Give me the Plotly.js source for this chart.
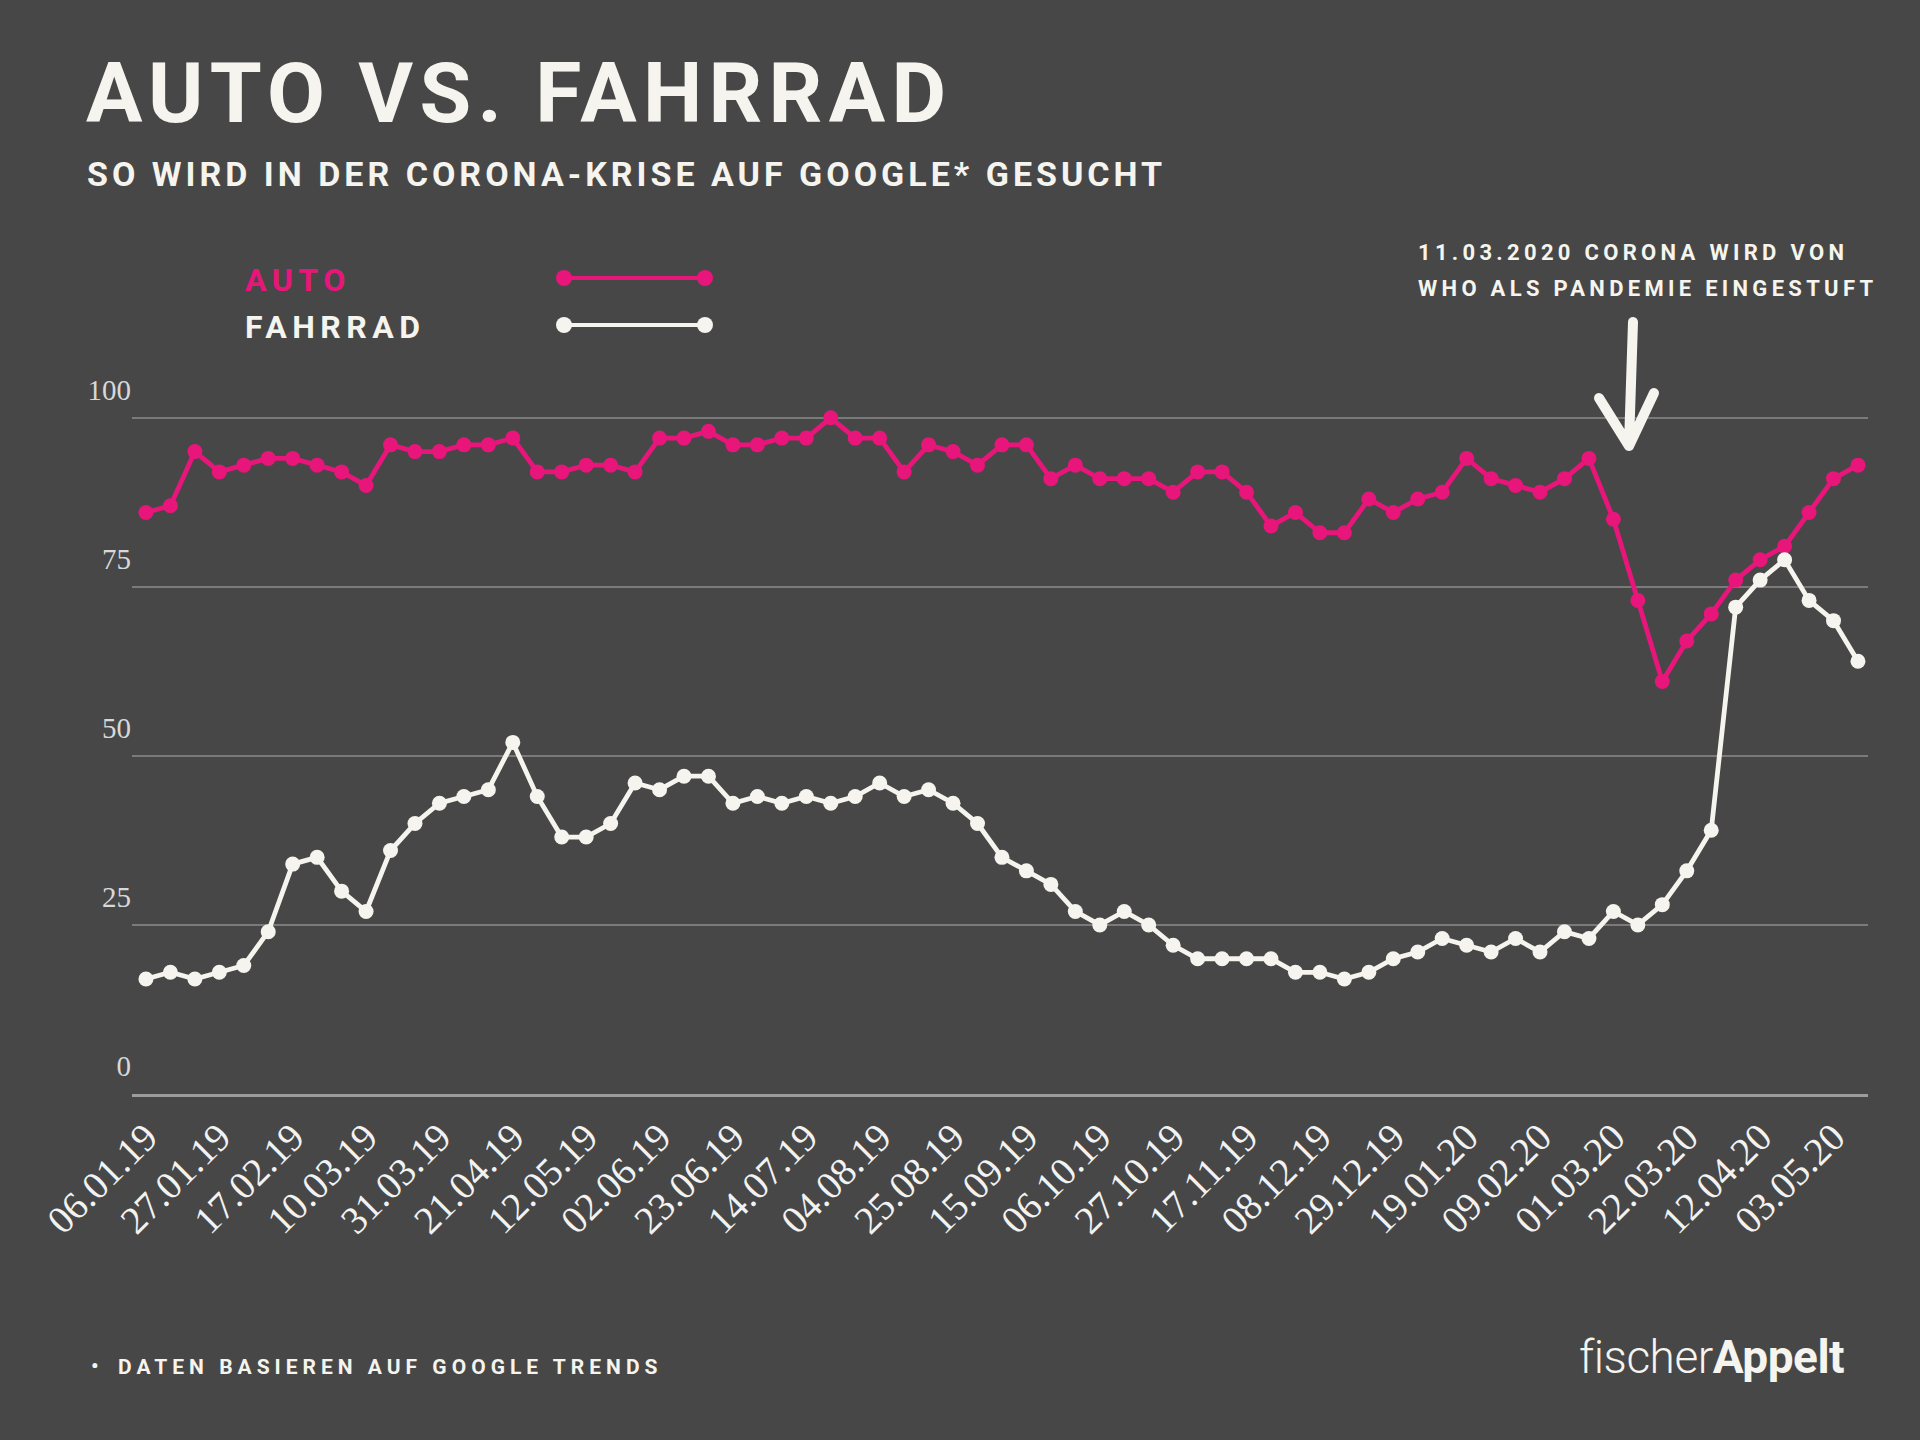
<!DOCTYPE html>
<html>
<head>
<meta charset="utf-8">
<script src="https://cdn.plot.ly/plotly-3.0.1.min.js"></script>
<style>
html,body{margin:0;padding:0;background:#474747;}
#chart{width:1920px;height:1440px;}
g.annotation[data-index="0"] text{letter-spacing:6.3px;}
g.annotation[data-index="1"] text{letter-spacing:4px;}
g.annotation[data-index="2"] text{letter-spacing:5.5px;}
g.annotation[data-index="3"] text{letter-spacing:5.5px;}
g.annotation[data-index="4"] text{letter-spacing:4.3px;}
g.annotation[data-index="5"] text{letter-spacing:4.3px;}
g.annotation[data-index="7"] text{letter-spacing:5px;}
g.annotation[data-index="8"] text{letter-spacing:-0.5px;}
.shapelayer path{stroke-linecap:round;stroke-linejoin:round;}
</style>
</head>
<body>
<div id="chart"></div>
<script>
// ---- data ----
const weeks = [
  '06.01.19','13.01.19','20.01.19','27.01.19','03.02.19','10.02.19','17.02.19','24.02.19',
  '03.03.19','10.03.19','17.03.19','24.03.19','31.03.19','07.04.19','14.04.19','21.04.19',
  '28.04.19','05.05.19','12.05.19','19.05.19','26.05.19','02.06.19','09.06.19','16.06.19',
  '23.06.19','30.06.19','07.07.19','14.07.19','21.07.19','28.07.19','04.08.19','11.08.19',
  '18.08.19','25.08.19','01.09.19','08.09.19','15.09.19','22.09.19','29.09.19','06.10.19',
  '13.10.19','20.10.19','27.10.19','03.11.19','10.11.19','17.11.19','24.11.19','01.12.19',
  '08.12.19','15.12.19','22.12.19','29.12.19','05.01.20','12.01.20','19.01.20','26.01.20',
  '02.02.20','09.02.20','16.02.20','23.02.20','01.03.20','08.03.20','15.03.20','22.03.20',
  '29.03.20','05.04.20','12.04.20','19.04.20','26.04.20','03.05.20','10.05.20'
];
const autoValues = [
  86,87,95,92,93,94,94,93,92,90,96,95,95,96,96,97,92,92,93,93,
  92,97,97,98,96,96,97,97,100,97,97,92,96,95,93,96,96,91,93,91,
  91,91,89,92,92,89,84,86,83,83,88,86,88,89,94,91,90,89,91,94,
  85,73,61,67,71,76,79,81,86,91,93
];
const fahrradValues = [
  17,18,17,18,19,24,34,35,30,27,36,40,43,44,45,52,44,38,38,40,
  46,45,47,47,43,44,43,44,43,44,46,44,45,43,40,35,33,31,27,25,
  27,25,22,20,20,20,20,18,18,17,18,20,21,23,22,21,23,21,24,23,
  27,25,28,33,39,72,76,79,73,70,64
];
const xTickLabels = [
  '06.01.19','27.01.19','17.02.19','10.03.19','31.03.19','21.04.19','12.05.19','02.06.19',
  '23.06.19','14.07.19','04.08.19','25.08.19','15.09.19','06.10.19','27.10.19','17.11.19',
  '08.12.19','29.12.19','19.01.20','09.02.20','01.03.20','22.03.20','12.04.20','03.05.20'
];
const yTickValues = [0,25,50,75,100];
const yTickLabels = ['0','25','50','75','100'];
const seriesNames = ['AUTO','FAHRRAD'];

// ---- style ----
const BG = '#474747';
const PINK = '#E8157B';
const WHITE = '#F5F4EE';
const L = 132, R = 1868, T = 384, B = 1094;
function px(x){ return (x - L) / (R - L); }
function py(y){ return (B - y) / (B - T); }

const traces = [
  {
    x: weeks, y: autoValues, name: seriesNames[0], type: 'scatter', mode: 'lines+markers',
    line: {color: PINK, width: 4.8}, marker: {color: PINK, size: 15}, cliponaxis: false
  },
  {
    x: weeks, y: fahrradValues, name: seriesNames[1], type: 'scatter', mode: 'lines+markers',
    line: {color: WHITE, width: 4.8}, marker: {color: WHITE, size: 15}, cliponaxis: false
  }
];

function ann(text, x, y, size, color, weight){
  return {
    text: text, xref: 'paper', yref: 'paper', x: px(x), y: py(y),
    xanchor: 'left', yanchor: 'middle', align: 'left', showarrow: false,
    font: {family: 'Roboto', size: size, color: color, weight: weight || 700}
  };
}

const annotations = [
  ann('AUTO VS. FAHRRAD', 84, 93, 84, WHITE),
  ann('SO WIRD IN DER CORONA-KRISE AUF GOOGLE* GESUCHT', 85, 174, 34, WHITE),
  ann(seriesNames[0], 243, 279.5, 32, PINK),
  ann(seriesNames[1], 243, 327, 32, WHITE),
  ann('11.03.2020 CORONA WIRD VON', 1416, 252.5, 22, WHITE),
  ann('WHO ALS PANDEMIE EINGESTUFT', 1416, 288, 22, WHITE),
  ann('•', 89, 1366, 21, WHITE),
  ann('DATEN BASIEREN AUF GOOGLE TRENDS', 116, 1367, 21, WHITE),
  ann('fischer<b>Appelt</b>', 1577, 1357, 46, WHITE, 300)
];

function dotShape(cx, cy, r, color){
  return {type: 'circle', xref: 'paper', yref: 'paper',
    x0: px(cx - r), x1: px(cx + r), y0: py(cy + r), y1: py(cy - r),
    fillcolor: color, line: {width: 0}};
}
const shapes = [
  {type: 'line', xref: 'paper', yref: 'paper', x0: px(564), x1: px(705), y0: py(278), y1: py(278), line: {color: PINK, width: 4}},
  dotShape(564, 278, 8, PINK), dotShape(705, 278, 8, PINK),
  {type: 'line', xref: 'paper', yref: 'paper', x0: px(564), x1: px(705), y0: py(325), y1: py(325), line: {color: WHITE, width: 4}},
  dotShape(564, 325, 8, WHITE), dotShape(705, 325, 8, WHITE),
  {type: 'path', xref: 'paper', yref: 'paper',
    path: 'M ' + px(1633) + ',' + py(322) + ' L ' + px(1629) + ',' + py(444) +
          ' M ' + px(1599) + ',' + py(398) + ' L ' + px(1629) + ',' + py(446) + ' L ' + px(1654) + ',' + py(393),
    line: {color: WHITE, width: 10}}
];

const layout = {
  width: 1920, height: 1440,
  paper_bgcolor: BG, plot_bgcolor: BG,
  margin: {l: L, r: 1920 - R, t: T, b: 1440 - B, pad: 0},
  showlegend: false,
  xaxis: {
    type: 'category', range: [-0.57, 70.41],
    tickmode: 'array', tickvals: xTickLabels, ticktext: xTickLabels,
    tickangle: -45, tickfont: {family: 'Liberation Serif', size: 39, color: '#F2F2F2'},
    showgrid: false, zeroline: false, showline: true, linecolor: '#9C9C9C', linewidth: 2.5,
    ticks: '', ticklabelstandoff: 2, fixedrange: true
  },
  yaxis: {
    range: [0, 105], tickmode: 'array', tickvals: yTickValues, ticktext: yTickLabels,
    tickfont: {family: 'Liberation Serif', size: 29, color: '#D8D8D8'},
    showgrid: true, gridcolor: '#7A7A7A', gridwidth: 2, zeroline: false, showline: false,
    ticks: '', ticklabelstandoff: 0, ticklabelshift: -28, fixedrange: true
  },
  annotations: annotations,
  shapes: shapes
};

Plotly.newPlot('chart', traces, layout, {displayModeBar: false, staticPlot: true});
</script>
</body>
</html>
